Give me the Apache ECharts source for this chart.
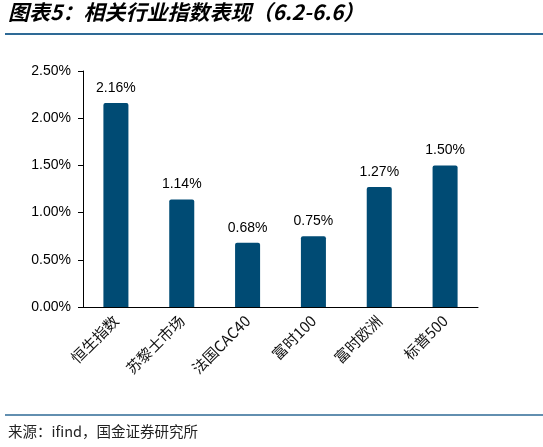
<!DOCTYPE html>
<html lang="zh-CN">
<head>
  <meta charset="UTF-8">
  <title>相关行业指数表现</title>
  <script src="https://cdn.jsdelivr.net/npm/echarts@6.0.0/dist/echarts.min.js"></script>
  <style>
    html, body { margin: 0; padding: 0; background: #fff; }
    #chart { width: 543px; height: 447px; }
  </style>
</head>
<body>
  <div id="chart"></div>
  <script>
    // 数据
    const categories = ['恒生指数', '苏黎士市场', '法国CAC40', '富时100', '富时欧洲', '标普500'];
    const values = [2.16, 1.14, 0.68, 0.75, 1.27, 1.50]; // 单位 %
    const titleText = '图表5：相关行业指数表现（6.2-6.6）';
    const sourceText = '来源：ifind，国金证券研究所';

    const chart = echarts.init(document.getElementById('chart'));
    const labelFont = 'Liberation Sans, Arial, "Noto Sans CJK SC", sans-serif';

    chart.setOption({
      backgroundColor: '#fff',
      animation: false,
      grid: { left: 83, right: 65, top: 71, bottom: 140 },
      xAxis: {
        type: 'category',
        data: categories,
        axisLine: { lineStyle: { color: '#000', width: 1 } },
        axisTick: { lineStyle: { color: '#000' }, length: 5 },
        axisLabel: {
          rotate: 45, color: '#111', fontSize: 15, margin: 11,
          fontFamily: '"Noto Sans CJK SC", sans-serif'
        }
      },
      yAxis: {
        type: 'value',
        min: 0, max: 2.5, interval: 0.5,
        splitLine: { show: false },
        axisLine: { show: true, lineStyle: { color: '#000', width: 1 } },
        axisTick: { show: true, lineStyle: { color: '#000' }, length: 5 },
        axisLabel: {
          color: '#000', fontSize: 14, fontFamily: labelFont, margin: 12,
          formatter: v => v.toFixed(2) + '%'
        }
      },
      series: [{
        type: 'bar',
        data: values,
        barWidth: '38%',
        itemStyle: { color: '#004B74', borderRadius: [2, 2, 0, 0] },
        label: {
          show: true, position: 'top', distance: 8,
          color: '#000', fontSize: 14, fontFamily: labelFont,
          formatter: p => p.value.toFixed(2) + '%'
        }
      }],
      graphic: [
        {
          type: 'text', left: 8, top: 2,
          style: {
            text: titleText, fill: '#000', fontSize: 21, fontWeight: 'bold',
            fontStyle: 'italic', fontFamily: '"Noto Sans CJK SC", sans-serif'
          }
        },
        {
          type: 'line', shape: { x1: 5, y1: 34, x2: 543, y2: 34 },
          style: { stroke: '#2E6A96', lineWidth: 2 }
        },
        {
          type: 'line', shape: { x1: 5, y1: 415, x2: 543, y2: 415 },
          style: { stroke: '#2E6A96', lineWidth: 1.5 }
        },
        {
          type: 'text', left: 8, top: 424,
          style: {
            text: sourceText, fill: '#222', fontSize: 14.5,
            fontFamily: '"Noto Sans CJK SC", monospace'
          }
        }
      ]
    });
  </script>
</body>
</html>
